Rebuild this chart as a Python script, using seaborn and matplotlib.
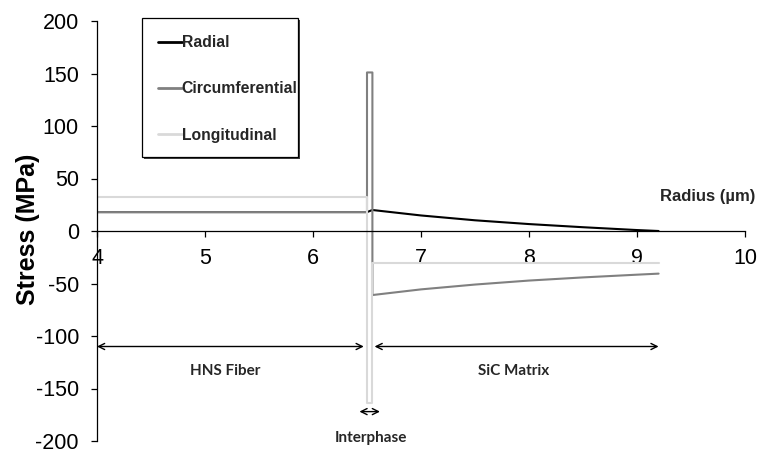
import matplotlib
matplotlib.use("Agg")
import matplotlib.pyplot as plt
from matplotlib.patches import Rectangle
import numpy as np
import pandas as pd
import seaborn as sns

# Thermal residual stress through fibre / interphase / matrix
components = ["Radial", "Circumferential", "Longitudinal"]
colors = ["#000000", "#808080", "#d9d9d9"]

radius_radial = [4.0, 6.5, 6.55, 7.0, 7.5, 8.0, 8.5, 9.0, 9.2]
stress_radial = [18, 18, 20, 14.8, 10.2, 6.6, 3.6, 0.9, 0.0]

radius_circ = [4.0, 6.5, 6.5, 6.55, 6.55, 7.0, 7.5, 8.0, 8.5, 9.0, 9.2]
stress_circ = [18, 18, 151, 151, -61, -55.6, -51.0, -47.2, -44.2, -41.6, -40.6]

radius_long = [4.0, 6.5, 6.5, 6.55, 6.55, 9.2]
stress_long = [32, 32, -164, -164, -30, -30]

x_ticks = [4, 5, 6, 7, 8, 9, 10]
y_ticks = [-200, -150, -100, -50, 0, 50, 100, 150, 200]

df = pd.concat([
    pd.DataFrame({"radius": radius_radial, "stress": stress_radial, "component": components[0]}),
    pd.DataFrame({"radius": radius_circ, "stress": stress_circ, "component": components[1]}),
    pd.DataFrame({"radius": radius_long, "stress": stress_long, "component": components[2]}),
], ignore_index=True)

sns.set_style("ticks")
plt.rcParams["font.family"] = ["Liberation Sans", "DejaVu Sans"]

fig = plt.figure(figsize=(7.6, 4.53), dpi=100)
ax = fig.add_axes([97 / 760, 12 / 453, 648 / 760, 420 / 453])

sns.lineplot(data=df, x="radius", y="stress", hue="component",
             hue_order=components, palette=colors, sort=False,
             estimator=None, linewidth=1.5, legend=False, ax=ax)

ax.set_xlim(4, 10)
ax.set_ylim(-200, 200)
ax.set_xticks(x_ticks)
ax.set_yticks(y_ticks)
ax.set_xticklabels([str(t) for t in x_ticks])
ax.set_yticklabels([str(t) for t in y_ticks])

for side in ("top", "right"):
    ax.spines[side].set_visible(False)
ax.spines["bottom"].set_position(("data", 0))
for side in ("left", "bottom"):
    ax.spines[side].set_color("black")
    ax.spines[side].set_linewidth(0.9)

ax.tick_params(axis="both", colors="black", labelsize=15.5, length=4, width=0.9,
               direction="out")
ax.tick_params(axis="x", pad=8)
ax.tick_params(axis="y", pad=9)

ax.set_xlabel("")
ax.set_ylabel("Stress (MPa)", fontsize=18, fontweight="bold", color="black")
ax.yaxis.set_label_coords(-0.088, 0.505)

ax.text(9.65, 33, "Radius (µm)", fontsize=12, fontweight="bold",
        ha="center", va="center", clip_on=False)

# Region annotations
arrow = dict(arrowstyle="<->", color="black", lw=1.0, mutation_scale=11,
             shrinkA=0, shrinkB=0)
ax.annotate("", xy=(4.0, -110), xytext=(6.47, -110), arrowprops=arrow)
ax.annotate("", xy=(6.57, -110), xytext=(9.2, -110), arrowprops=arrow)
ax.annotate("", xy=(6.43, -172), xytext=(6.62, -172), arrowprops=arrow,
            annotation_clip=False)

note = dict(fontsize=11, fontweight="bold", family=["Lato", "DejaVu Sans"],
            ha="center", va="center", clip_on=False)
ax.text(5.19, -133, "HNS Fiber", **note)
ax.text(7.86, -133, "SiC Matrix", **note)
ax.text(6.54, -197, "Interphase", **note)

# Legend in a shadowed box
leg = ax.legend(handles=ax.get_lines()[:3], labels=components,
                loc="upper left", bbox_to_anchor=(158 / 760, 1 - 35 / 453),
                bbox_transform=fig.transFigure, frameon=False,
                prop={"weight": "bold", "size": 11.3},
                handlelength=1.5, handletextpad=0.02, labelspacing=2.0,
                borderpad=0, borderaxespad=0)
for h in leg.get_lines():
    h.set_linewidth(2)
leg.set_zorder(10)

x0, y0, w, h = 142 / 760, 1 - 157 / 453, 156 / 760, 139 / 453
ax.add_patch(Rectangle((x0 + 2 / 760, y0 - 2 / 453), w, h, transform=fig.transFigure,
                       facecolor="#404040", edgecolor="none", zorder=6, clip_on=False))
ax.add_patch(Rectangle((x0, y0), w, h, transform=fig.transFigure,
                       facecolor="white", edgecolor="black", linewidth=0.9,
                       zorder=7, clip_on=False))

fig.savefig("out.png", dpi=100)
